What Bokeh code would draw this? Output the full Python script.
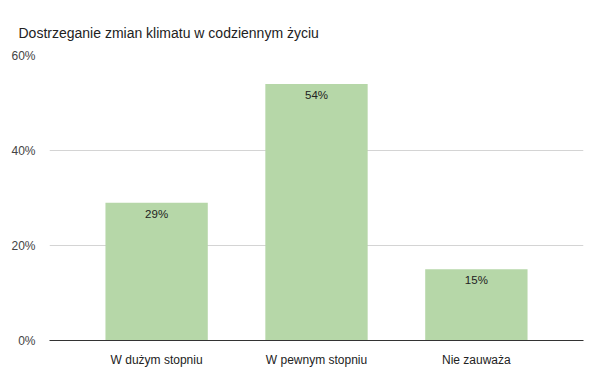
from bokeh.plotting import figure
from bokeh.models import ColumnDataSource, FixedTicker, Range1d, NumeralTickFormatter
from bokeh.core.properties import value
from bokeh.embed import file_html
from bokeh.resources import INLINE

title = "Dostrzeganie zmian klimatu w codziennym życiu"
categories = ["W dużym stopniu", "W pewnym stopniu", "Nie zauważa"]
shares = [0.29, 0.54, 0.15]
y_ticks = [0, 0.2, 0.4, 0.6]

xs = list(range(len(categories)))
src = ColumnDataSource(dict(x=xs, y=shares, lab=[f"{round(v*100)}%" for v in shares]))

FONT = "Liberation Sans"

p = figure(width=600, height=377, output_backend="svg", toolbar_location=None,
           x_range=Range1d(-0.67, 2.67), y_range=Range1d(0, 0.6),
           min_border_left=49, min_border_right=17, min_border_top=55, min_border_bottom=37)

p.title.text = title
p.title.text_font = FONT
p.title.text_font_size = "14px"
p.title.text_font_style = "normal"
p.title.text_color = "#222222"
p.title.align = "left"
p.title.offset = -31
p.title.standoff = 30

p.outline_line_color = None
p.background_fill_color = "white"

p.vbar(x="x", top="y", width=0.64, source=src, fill_color="#b6d7a8", line_color=None)
p.text(x="x", y="y", text="lab", source=src, text_align="center", text_baseline="top",
       y_offset=5, text_font=value(FONT), text_font_size="11.5px", text_color="#222222")

p.xgrid.grid_line_color = None
p.ygrid.grid_line_color = "#d4d4d4"
p.ygrid.ticker = FixedTicker(ticks=y_ticks)

p.yaxis.ticker = FixedTicker(ticks=y_ticks)
p.yaxis.formatter = NumeralTickFormatter(format="0%")
p.yaxis.axis_line_color = None
p.yaxis.major_tick_line_color = None
p.yaxis.minor_tick_line_color = None
p.yaxis.major_label_text_font = FONT
p.yaxis.major_label_text_font_size = "12px"
p.yaxis.major_label_text_color = "#444444"
p.yaxis.major_label_standoff = 8

p.xaxis.ticker = FixedTicker(ticks=xs)
p.xaxis.major_label_overrides = {i: c for i, c in enumerate(categories)}
p.xaxis.axis_line_color = "#333333"
p.xaxis.axis_line_width = 1
p.xaxis.major_tick_line_color = None
p.xaxis.minor_tick_line_color = None
p.xaxis.major_label_text_font = FONT
p.xaxis.major_label_text_font_size = "12px"
p.xaxis.major_label_text_color = "#222222"
p.xaxis.major_label_standoff = 6

open("out.html", "w").write(file_html(p, INLINE))
